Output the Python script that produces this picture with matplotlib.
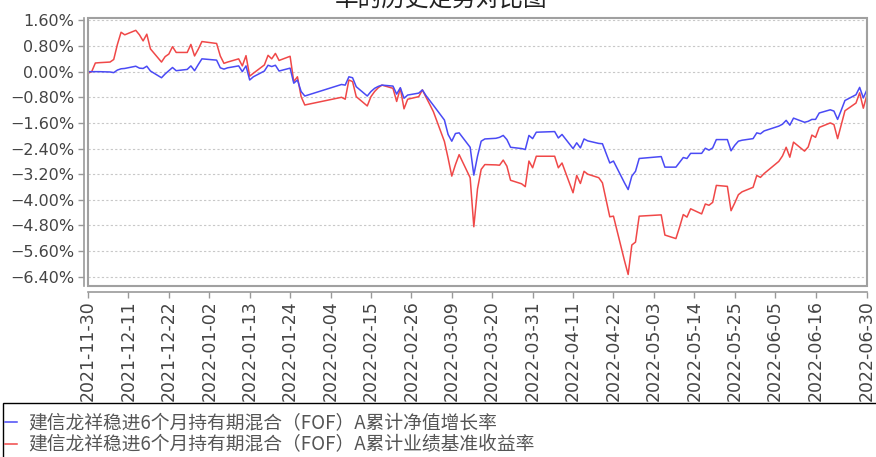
import matplotlib
matplotlib.use("Agg")
import matplotlib.pyplot as plt
import matplotlib.dates as mdates
import pandas as pd
from matplotlib.patches import Rectangle
from matplotlib.ticker import FuncFormatter

# trading days (values in %)
dates = [
    "2021-11-30", "2021-12-01", "2021-12-02", "2021-12-03", "2021-12-06", "2021-12-07",
    "2021-12-08", "2021-12-09", "2021-12-10", "2021-12-13", "2021-12-14", "2021-12-15",
    "2021-12-16", "2021-12-17", "2021-12-20", "2021-12-21", "2021-12-22", "2021-12-23",
    "2021-12-24", "2021-12-27", "2021-12-28", "2021-12-29", "2021-12-30", "2021-12-31",
    "2022-01-04", "2022-01-05", "2022-01-06", "2022-01-07", "2022-01-10", "2022-01-11",
    "2022-01-12", "2022-01-13", "2022-01-14", "2022-01-17", "2022-01-18", "2022-01-19",
    "2022-01-20", "2022-01-21", "2022-01-24", "2022-01-25", "2022-01-26", "2022-01-27",
    "2022-01-28", "2022-02-07", "2022-02-08", "2022-02-09", "2022-02-10", "2022-02-11",
    "2022-02-14", "2022-02-15", "2022-02-16", "2022-02-17", "2022-02-18", "2022-02-21",
    "2022-02-22", "2022-02-23", "2022-02-24", "2022-02-25", "2022-02-28", "2022-03-01",
    "2022-03-02", "2022-03-03", "2022-03-04", "2022-03-07", "2022-03-08", "2022-03-09",
    "2022-03-10", "2022-03-11", "2022-03-14", "2022-03-15", "2022-03-16", "2022-03-17",
    "2022-03-18", "2022-03-21", "2022-03-22", "2022-03-23", "2022-03-24", "2022-03-25",
    "2022-03-28", "2022-03-29", "2022-03-30", "2022-03-31", "2022-04-01", "2022-04-06",
    "2022-04-07", "2022-04-08", "2022-04-11", "2022-04-12", "2022-04-13", "2022-04-14",
    "2022-04-15", "2022-04-18", "2022-04-19", "2022-04-20", "2022-04-21", "2022-04-22",
    "2022-04-25", "2022-04-26", "2022-04-27", "2022-04-28", "2022-04-29", "2022-05-05",
    "2022-05-06", "2022-05-09", "2022-05-10", "2022-05-11", "2022-05-12", "2022-05-13",
    "2022-05-16", "2022-05-17", "2022-05-18", "2022-05-19", "2022-05-20", "2022-05-23",
    "2022-05-24", "2022-05-25", "2022-05-26", "2022-05-27", "2022-05-30", "2022-05-31",
    "2022-06-01", "2022-06-02", "2022-06-06", "2022-06-07", "2022-06-08", "2022-06-09",
    "2022-06-10", "2022-06-13", "2022-06-14", "2022-06-15", "2022-06-16", "2022-06-17",
    "2022-06-20", "2022-06-21", "2022-06-22", "2022-06-23", "2022-06-24", "2022-06-27",
    "2022-06-28", "2022-06-29", "2022-06-30",
]

nav_growth = [
    0.00, 0.00, 0.00, 0.00, -0.01, -0.03,
    0.05, 0.09, 0.10, 0.17, 0.11, 0.10,
    0.17, 0.02, -0.19, -0.07, 0.03, 0.13,
    0.03, 0.07, 0.18, 0.03, 0.22, 0.40,
    0.36, 0.12, 0.08, 0.12, 0.18, 0.00,
    0.18, -0.26, -0.16, 0.02, 0.20, 0.16,
    0.20, 0.02, 0.11, -0.36, -0.26, -0.62,
    -0.76, -0.40, -0.42, -0.16, -0.19, -0.47,
    -0.76, -0.62, -0.52, -0.46, -0.42, -0.45,
    -0.70, -0.50, -0.83, -0.73, -0.67, -0.57,
    -0.75, -0.90, -1.05, -1.51, -1.96, -2.17,
    -1.93, -1.91, -2.36, -3.23, -2.64, -2.17,
    -2.10, -2.08, -2.05, -1.99, -2.12, -2.36,
    -2.40, -2.43, -1.99, -2.09, -1.89, -1.87,
    -2.07, -1.96, -2.40, -2.22, -2.38, -2.10,
    -2.16, -2.24, -2.25, -2.55, -2.85, -2.79,
    -3.47, -3.68, -3.26, -3.11, -2.71, -2.65,
    -2.98, -2.98, -2.83, -2.68, -2.71, -2.55,
    -2.55, -2.39, -2.45, -2.38, -2.12, -2.12,
    -2.47, -2.30, -2.17, -2.14, -2.09, -1.91,
    -1.94, -1.85, -1.70, -1.64, -1.52, -1.67,
    -1.45, -1.58, -1.55, -1.49, -1.49, -1.29,
    -1.19, -1.23, -1.49, -1.20, -0.90, -0.72,
    -0.49, -0.82, -0.56,
]

benchmark = [
    -0.05, 0.00, 0.27, 0.28, 0.30, 0.38,
    0.85, 1.23, 1.15, 1.29, 1.15, 0.96,
    1.17, 0.71, 0.30, 0.47, 0.55, 0.78,
    0.60, 0.60, 0.85, 0.49, 0.70, 0.94,
    0.88, 0.49, 0.26, 0.30, 0.40, 0.18,
    0.50, -0.14, -0.05, 0.21, 0.51, 0.40,
    0.57, 0.35, 0.48, -0.31, -0.16, -0.78,
    -1.04, -0.80, -0.86, -0.26, -0.31, -0.78,
    -1.07, -0.78, -0.62, -0.50, -0.42, -0.52,
    -0.93, -0.52, -1.16, -0.86, -0.78, -0.57,
    -0.80, -1.02, -1.25, -2.18, -2.70, -3.26,
    -2.90, -2.59, -3.31, -4.84, -3.66, -3.05,
    -2.90, -2.91, -2.92, -2.76, -2.95, -3.39,
    -3.50, -3.59, -2.79, -3.00, -2.64, -2.64,
    -3.00, -2.85, -3.78, -3.24, -3.49, -3.11,
    -3.20, -3.31, -3.47, -4.00, -4.53, -4.51,
    -5.90, -6.33, -5.41, -5.32, -4.51, -4.47,
    -5.10, -5.21, -4.85, -4.46, -4.54, -4.28,
    -4.44, -4.13, -4.17, -4.08, -3.55, -3.58,
    -4.34, -4.10, -3.84, -3.75, -3.61, -3.24,
    -3.30, -3.18, -2.80, -2.63, -2.36, -2.67,
    -2.20, -2.48, -2.35, -1.98, -2.05, -1.74,
    -1.60, -1.65, -2.09, -1.65, -1.22, -0.98,
    -0.66, -1.14, -0.72,
]

tick_dates = [
    "2021-11-30", "2021-12-11", "2021-12-22", "2022-01-02", "2022-01-13", "2022-01-24",
    "2022-02-04", "2022-02-15", "2022-02-26", "2022-03-09", "2022-03-20", "2022-03-31",
    "2022-04-11", "2022-04-22", "2022-05-03", "2022-05-14", "2022-05-25", "2022-06-05",
    "2022-06-16", "2022-06-30",
]
y_ticks = [1.6, 0.8, 0.0, -0.8, -1.6, -2.4, -3.2, -4.0, -4.8, -5.6, -6.4]

label_nav = "建信龙祥稳进6个月持有期混合（FOF）A累计净值增长率"
label_bench = "建信龙祥稳进6个月持有期混合（FOF）A累计业绩基准收益率"
title = "率的历史走势对比图"

cjk = ["Noto Sans CJK SC", "DejaVu Sans"]
W, H = 876, 457

x = pd.to_datetime(dates)
fig = plt.figure(figsize=(W / 100, H / 100), dpi=100)
ax = fig.add_axes([88 / W, 1 - 286 / H, (867 - 88) / W, (286 - 18) / H])

red_line, = ax.plot(x, benchmark, color="#f04848", lw=1.1, label=label_bench)
blue_line, = ax.plot(x, nav_growth, color="#4a4af5", lw=1.1, label=label_nav)

ax.set_xlim(pd.Timestamp("2021-11-30"), pd.Timestamp("2022-06-30"))
ax.set_ylim(-6.69, 1.675)

ax.set_yticks(y_ticks)
ax.yaxis.set_major_formatter(FuncFormatter(lambda v, p: ("%.2f%%" % v).replace("-", "\u2212")))
ax.set_xticks(pd.to_datetime(tick_dates))
ax.xaxis.set_major_formatter(mdates.DateFormatter("%Y-%m-%d"))

ax.grid(axis="y", color="#c8c8c8", linestyle=(0, (2, 2)), lw=0.8)
ax.set_axisbelow(True)

for s in ["top", "right"]:
    ax.spines[s].set_visible(False)
ax.spines["left"].set_position(("outward", 3))
ax.spines["bottom"].set_position(("outward", 4))
for s in ["left", "bottom"]:
    ax.spines[s].set_color("#999999")
    ax.spines[s].set_linewidth(1.2)
ax.add_patch(Rectangle((0, 0), 1, 1, transform=ax.transAxes, fill=False,
                       edgecolor="#a0a0a0", lw=1.5, clip_on=False, zorder=5))

ax.tick_params(axis="y", length=4, width=1, color="#999999", pad=3,
               labelsize=11.5, labelcolor="#444444")
ax.tick_params(axis="x", length=4, width=1, color="#999999", pad=2,
               labelsize=12.5, labelcolor="#444444", labelrotation=90)

fig.text(0.504, 1 - 7 / H, title, family=cjk, fontsize=17, color="#222222",
         ha="center", va="baseline")

# legend box runs off the right and bottom edges
fig.patches.append(Rectangle((3 / W, -0.1), 1.2, 1 - 403 / H + 0.1,
                             transform=fig.transFigure, fill=False,
                             edgecolor="black", lw=1.0))
leg = fig.legend(handles=[blue_line, red_line], loc="upper left",
                 bbox_to_anchor=(5 / W, 1 - 413 / H), borderaxespad=0,
                 frameon=False, prop={"family": cjk, "size": 13.5},
                 labelcolor="#555555", handlelength=0.65, handletextpad=0.6,
                 borderpad=0, labelspacing=0.02)

fig.savefig("out.png", dpi=100)
